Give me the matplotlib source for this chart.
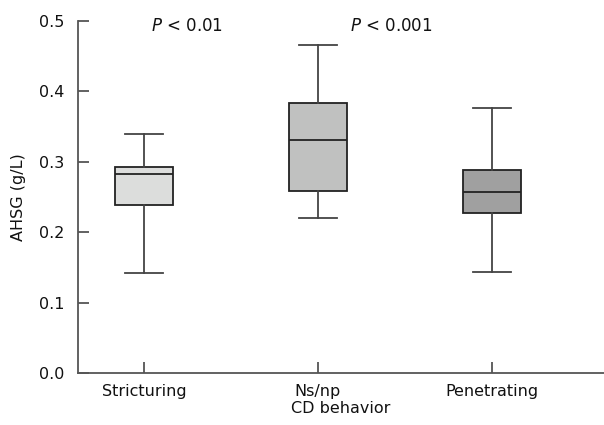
import matplotlib
matplotlib.use("Agg")
import matplotlib.pyplot as plt

categories = ["Stricturing", "Ns/np", "Penetrating"]
whisker_low = [0.142, 0.220, 0.143]
q1 = [0.238, 0.259, 0.228]
median = [0.283, 0.331, 0.257]
q3 = [0.292, 0.383, 0.288]
whisker_high = [0.339, 0.466, 0.376]
box_colors = ["#dcdddc", "#c0c1c0", "#a0a0a0"]
p_labels = ["$P$ < 0.01", "$P$ < 0.001"]
p_pos = [1.25, 2.42]
y_ticks = [0.0, 0.1, 0.2, 0.3, 0.4, 0.5]

plt.rcParams['font.family'] = ['DejaVu Sans']
plt.rcParams['mathtext.fontset'] = 'dejavusans'

fig = plt.figure(figsize=(6.04, 4.25), dpi=100)
ax = fig.add_axes([78/604, 51.7/425, 1 - 78/604, (373.3-20.7)/425])

stats = []
for i, c in enumerate(categories):
    stats.append(dict(label=c, whislo=whisker_low[i], q1=q1[i], med=median[i],
                      q3=q3[i], whishi=whisker_high[i], fliers=[]))

bp = ax.bxp(stats, positions=[1, 2, 3], widths=0.335, patch_artist=True,
            showfliers=False,
            boxprops=dict(edgecolor="#222222", linewidth=1.3),
            medianprops=dict(color="#222222", linewidth=1.3),
            whiskerprops=dict(color="#444444", linewidth=1.3),
            capprops=dict(color="#444444", linewidth=1.3),
            capwidths=0.22)
for patch, col in zip(bp['boxes'], box_colors):
    patch.set_facecolor(col)

ax.set_xlim(0.62, 3.646)
ax.set_ylim(0, 0.5)
ax.set_yticks(y_ticks)
ax.set_yticklabels([f"{v:.1f}" for v in y_ticks])
ax.spines['top'].set_visible(False)
ax.spines['right'].set_visible(False)
for s in ['left', 'bottom']:
    ax.spines[s].set_color('#555555')
    ax.spines[s].set_linewidth(1.3)
ax.tick_params(axis='both', direction='in', length=8, width=1.3, color='#555555',
               labelsize=11.5, labelcolor='#111111')
ax.tick_params(axis='x', pad=8)
ax.tick_params(axis='y', pad=10)

for t, x in zip(p_labels, p_pos):
    ax.text(x, 0.4925, t, ha='center', va='center', fontsize=12, color='#111111')

ax.set_xlabel("CD behavior", fontsize=11.5, color='#111111', labelpad=1)
ax.set_ylabel("AHSG (g/L)", fontsize=11.5, color='#111111', labelpad=9)

fig.savefig("out.png", dpi=100)
